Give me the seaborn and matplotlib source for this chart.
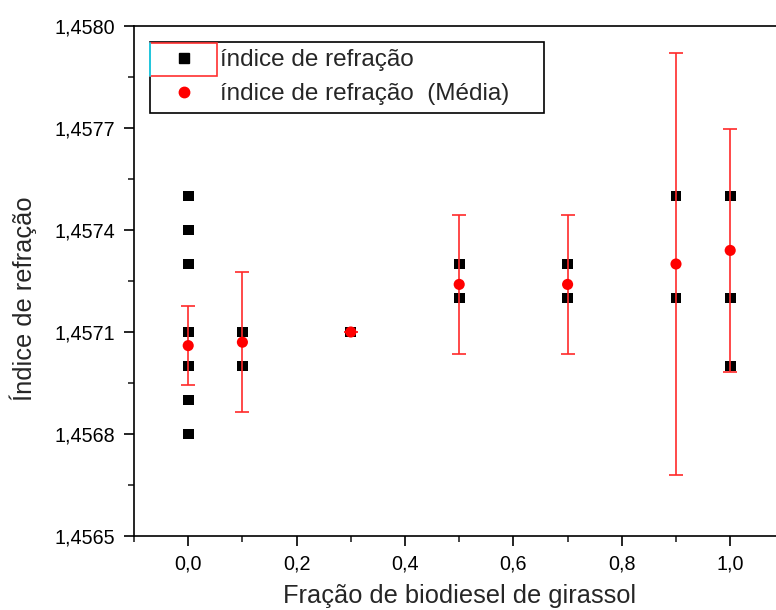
import matplotlib
matplotlib.use("Agg")
import matplotlib.pyplot as plt
import matplotlib.ticker as mticker
from matplotlib.lines import Line2D
from matplotlib.patches import Rectangle
import seaborn as sns
import pandas as pd

# ---- data ----
x_pts = [0.0, 0.0, 0.0, 0.0, 0.0, 0.0, 0.0, 0.1, 0.1, 0.3, 0.5, 0.5, 0.7, 0.7, 0.9, 0.9, 1.0, 1.0, 1.0]
y_pts = [1.4575, 1.4574, 1.4573, 1.4571, 1.4570, 1.4569, 1.4568,
         1.4571, 1.4570, 1.4571, 1.4573, 1.4572, 1.4573, 1.4572,
         1.4575, 1.4572, 1.4575, 1.4572, 1.4570]
x_mean = [0.0, 0.1, 0.3, 0.5, 0.7, 0.9, 1.0]
y_mean = [1.45706, 1.45707, 1.45710, 1.45724, 1.45724, 1.45730, 1.45734]
y_err = [0.000115, 0.000206, 0.0, 0.000205, 0.000205, 0.000620, 0.000357]
y_ticks = [1.4565, 1.4568, 1.4571, 1.4574, 1.4577, 1.4580]
y_minor = [1.45665, 1.45695, 1.45725, 1.45755, 1.45785]
x_ticks = [0.0, 0.2, 0.4, 0.6, 0.8, 1.0]
x_minor = [-0.1, 0.1, 0.3, 0.5, 0.7, 0.9, 1.1]
label_pts = "índice de refração"
label_mean = "índice de refração  (Média)"
xlabel = "Fração de biodiesel de girassol"
ylabel = "Índice de refração"

sns.set_style("ticks")
plt.rcParams['font.family'] = ['Liberation Sans', 'DejaVu Sans']

W, H = 776, 610
fig = plt.figure(figsize=(W / 100, H / 100), dpi=100)
ax_left, ax_bottom, ax_top = 134, 536, 26
px_per_x = 542.0
ax_w = 1.2 * px_per_x
ax_h = ax_bottom - ax_top
ax = fig.add_axes([ax_left / W, (H - ax_bottom) / H, ax_w / W, ax_h / H])

df_pts = pd.DataFrame({"x": x_pts, "y": y_pts})
df_mean = pd.DataFrame({"x": x_mean, "y": y_mean, "err": y_err})

sns.scatterplot(data=df_pts, x="x", y="y", marker="s", color="black", s=62,
                edgecolor="none", ax=ax, zorder=3, legend=False)
ax.errorbar(df_mean["x"], df_mean["y"], yerr=df_mean["err"], fmt="none",
            ecolor="#ff2a2a", elinewidth=1.2, capsize=5, capthick=1.2, zorder=4)
sns.scatterplot(data=df_mean, x="x", y="y", marker="o", color="#ff0000", s=64,
                edgecolor="none", ax=ax, zorder=5, legend=False)

ax.set_xlim(-0.1, 1.1)
ax.set_ylim(1.4565, 1.4580)
ax.xaxis.set_major_locator(mticker.FixedLocator(x_ticks))
ax.xaxis.set_minor_locator(mticker.FixedLocator(x_minor))
ax.yaxis.set_major_locator(mticker.FixedLocator(y_ticks))
ax.yaxis.set_minor_locator(mticker.FixedLocator(y_minor))
ax.xaxis.set_major_formatter(mticker.FuncFormatter(lambda v, p: f"{v:.1f}".replace(".", ",")))
ax.yaxis.set_major_formatter(mticker.FuncFormatter(lambda v, p: f"{v:.4f}".replace(".", ",")))

for s in ax.spines.values():
    s.set_visible(True)
    s.set_linewidth(1.2)
    s.set_color("black")
ax.tick_params(which="major", direction="out", length=7.5, width=1.2, labelsize=14.2,
               pad=6, colors="black", top=False, right=False)
ax.tick_params(which="minor", direction="out", length=4.5, width=1.2, top=False, right=False)

ax.set_xlabel(xlabel, fontsize=18.3)
ax.set_ylabel(ylabel, fontsize=18.3)
ax.xaxis.set_label_coords((460 - ax_left) / ax_w, (ax_bottom - 584) / ax_h)
ax.yaxis.set_label_coords((37 - ax_left) / ax_w, (ax_bottom - 299) / ax_h)

handles = [
    Line2D([], [], linestyle="none", marker="s", color="black", markersize=7.5),
    Line2D([], [], linestyle="none", marker="o", color="#ff0000", markersize=7.5),
]
leg = ax.legend(handles, [label_pts, label_mean + "    "], loc="upper left",
                bbox_to_anchor=((150 - ax_left) / ax_w, (ax_bottom - 42) / ax_h),
                fontsize=17.5, frameon=True, fancybox=False, edgecolor="black",
                framealpha=1, borderpad=0.3, labelspacing=0.5, handlelength=2.2,
                handletextpad=0.4, borderaxespad=0)
leg.get_frame().set_linewidth(1.2)

# selection highlight around the first legend symbol
fig.patches.append(Rectangle((150 / W, (H - 76) / H), 67 / W, 33 / H, transform=fig.transFigure,
                             fill=False, edgecolor="#ff3030", linewidth=1.2, zorder=10))
fig.lines.append(Line2D([150 / W, 150 / W], [(H - 76) / H, (H - 43) / H], transform=fig.transFigure,
                        color="#00e5ff", linewidth=1.2, zorder=11))

fig.savefig("out.png", dpi=100)
